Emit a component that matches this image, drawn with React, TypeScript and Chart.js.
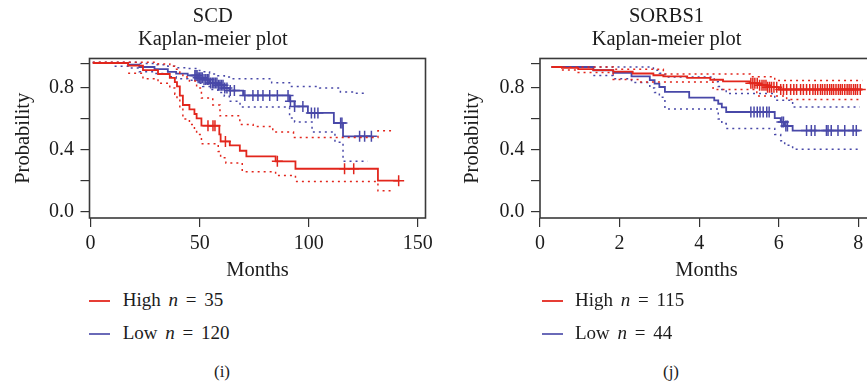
import React, { useEffect, useRef } from "react";
import { Chart, registerables } from "chart.js";

Chart.register(...registerables);

type Pt = [number, number];

const FONT = "'Liberation Serif', 'Times New Roman', serif";
const RED = "#e2261c";
const BLUE = "#4848a8";
const INK = "#1c1c1c";

// ---------- shared axis data ----------
const probTicks = [0, 0.2, 0.4, 0.6, 0.8, 0.955];
const probLabeled = [0, 0.4, 0.8];
const groupNames = ["High", "Low"];

// ---------- SCD panel ----------
const scdTitle = ["SCD", "Kaplan-meier plot"];
const scdXTicks = [0, 50, 100, 150];
const scdCounts = [35, 120];

const scdHighSurv: Pt[] = [
  [1.0, 0.961], [17.2, 0.944], [24.0, 0.915], [30.9, 0.89], [36.3, 0.865], [38.6, 0.838],
  [39.6, 0.81], [40.9, 0.75], [42.3, 0.69], [45.3, 0.662], [47.6, 0.632], [48.6, 0.604],
  [50.8, 0.557], [59.0, 0.5], [59.6, 0.455], [63.8, 0.43], [68.4, 0.395], [71.4, 0.359],
  [84.8, 0.327], [93.9, 0.279], [131.7, 0.202], [141.5, 0.202],
];
const scdHighUpper: Pt[] = [
  [1.0, 0.965], [30.9, 0.955], [36.3, 0.94], [38.6, 0.92], [40.9, 0.895], [42.3, 0.87],
  [45.3, 0.845], [48.6, 0.8], [50.8, 0.735], [56.0, 0.69], [59.3, 0.62], [68.4, 0.565],
  [74.5, 0.552], [83.5, 0.516], [93.0, 0.481], [131.7, 0.524], [139.5, 0.524],
];
const scdHighLower: Pt[] = [
  [17.2, 0.895], [24.0, 0.86], [30.9, 0.83], [36.3, 0.8], [38.6, 0.76], [39.6, 0.73],
  [40.9, 0.67], [42.3, 0.6], [45.3, 0.565], [47.6, 0.53], [48.6, 0.5], [50.8, 0.44],
  [58.5, 0.39], [59.6, 0.35], [62.0, 0.316], [69.5, 0.26], [84.8, 0.236], [93.9, 0.197],
  [131.7, 0.137], [139.3, 0.137],
];
const scdHighCensor = [53.8, 56.1, 57.0, 61.8, 85.6, 116.4, 120.6, 141.2];

const scdLowSurv: Pt[] = [
  [1.0, 0.961], [17.2, 0.95], [22.3, 0.935], [29.3, 0.922], [35.4, 0.903], [39.2, 0.892],
  [44.5, 0.881], [49.0, 0.866], [51.4, 0.854], [54.5, 0.832], [58.3, 0.817], [61.3, 0.8],
  [63.6, 0.783], [69.9, 0.752], [91.2, 0.714], [93.5, 0.681], [99.6, 0.639], [111.5, 0.574],
  [115.7, 0.488], [128.7, 0.488],
];
const scdLowUpper: Pt[] = [
  [1.0, 0.965], [22.3, 0.958], [29.3, 0.95], [35.4, 0.94], [39.2, 0.93], [44.5, 0.925],
  [49.0, 0.912], [51.4, 0.905], [54.5, 0.89], [58.3, 0.878], [61.3, 0.87], [63.6, 0.86],
  [83.0, 0.833], [91.2, 0.81], [105.0, 0.8], [114.5, 0.774], [120.0, 0.765], [127.0, 0.765],
];
const scdLowLower: Pt[] = [
  [11.0, 0.94], [17.2, 0.928], [22.3, 0.905], [29.3, 0.893], [35.4, 0.872], [39.2, 0.86],
  [44.5, 0.85], [49.0, 0.83], [51.4, 0.81], [54.5, 0.79], [58.3, 0.77], [61.3, 0.746],
  [63.6, 0.714], [68.5, 0.677], [91.2, 0.606], [93.5, 0.58], [101.5, 0.516], [112.0, 0.45],
  [115.7, 0.327], [127.0, 0.327],
];
const scdLowCensor = [
  47.8, 48.3, 48.8, 49.3, 50.0, 50.6, 51.2, 52.0, 52.8, 53.5, 54.2, 55.0, 55.8, 56.5, 57.2,
  57.9, 58.6, 59.3, 60.0, 60.7, 61.5, 62.5, 64.0, 65.9, 70.7, 74.4, 76.7, 79.0, 82.1, 85.6,
  90.5, 91.6, 93.5, 97.3, 101.2, 102.7, 104.2, 114.6, 115.2, 123.3, 125.6, 128.7,
];

// ---------- SORBS1 panel ----------
const sorbsTitle = ["SORBS1", "Kaplan-meier plot"];
const sorbsXTicks = [0, 2, 4, 6, 8];
const sorbsCounts = [115, 44];

const sorbsHighSurv: Pt[] = [
  [0.29, 0.935], [0.55, 0.93], [0.96, 0.922], [1.34, 0.915], [1.84, 0.905], [2.33, 0.893],
  [2.85, 0.882], [3.1, 0.874], [3.7, 0.865], [4.28, 0.853], [4.6, 0.843], [5.28, 0.83],
  [5.5, 0.818], [5.7, 0.805], [6.0, 0.79], [8.1, 0.79],
];
const sorbsHighUpper: Pt[] = [
  [0.29, 0.935], [1.84, 0.92], [3.1, 0.89], [5.28, 0.872], [5.9, 0.848], [8.1, 0.848],
];
const sorbsHighLower: Pt[] = [
  [0.55, 0.915], [0.96, 0.9], [1.84, 0.855], [2.5, 0.838], [4.35, 0.79], [5.45, 0.748],
  [6.2, 0.725], [8.1, 0.725],
];
const sorbsHighCensor = [
  5.3, 5.35, 5.4, 5.46, 5.52, 5.58, 5.63, 5.68, 5.72, 5.77, 5.82, 5.88, 5.95, 6.05, 6.12, 6.2,
  6.3, 6.38, 6.45, 6.55, 6.62, 6.7, 6.78, 6.86, 6.92, 6.98, 7.05, 7.1, 7.16, 7.22, 7.28, 7.33,
  7.38, 7.44, 7.5, 7.55, 7.6, 7.66, 7.72, 7.77, 7.82, 7.88, 7.93, 7.98, 8.05,
];

const sorbsLowSurv: Pt[] = [
  [0.29, 0.935], [1.34, 0.914], [1.84, 0.897], [2.3, 0.875], [2.76, 0.85], [2.88, 0.828],
  [3.0, 0.806], [3.14, 0.775], [3.75, 0.738], [4.38, 0.72], [4.48, 0.698], [4.57, 0.675],
  [4.68, 0.645], [5.9, 0.605], [6.05, 0.58], [6.15, 0.555], [6.35, 0.525], [8.04, 0.525],
];
const sorbsLowUpper: Pt[] = [
  [0.29, 0.935], [2.85, 0.914], [3.0, 0.895], [3.14, 0.871], [4.38, 0.84], [4.48, 0.81],
  [4.57, 0.79], [4.68, 0.764], [5.9, 0.72], [6.35, 0.677], [8.04, 0.677],
];
const sorbsLowLower: Pt[] = [
  [1.34, 0.88], [1.84, 0.86], [2.3, 0.835], [2.76, 0.8], [2.88, 0.77], [3.0, 0.74],
  [3.14, 0.665], [4.48, 0.6], [4.57, 0.57], [4.68, 0.538], [5.9, 0.5], [6.05, 0.46],
  [6.15, 0.43], [6.35, 0.405], [8.04, 0.405],
];
const sorbsLowCensor = [
  5.3, 5.38, 5.46, 5.53, 5.61, 5.7, 5.76, 6.08, 6.12, 6.18, 6.22, 6.7, 6.82, 6.91, 7.2, 7.24,
  7.32, 7.49, 7.66, 7.87, 7.95,
];

// ---------- helpers ----------
function levelAt(steps: Pt[], t: number): number {
  let y = steps[0][1];
  for (const [x, v] of steps) {
    if (x <= t + 1e-9) y = v;
    else break;
  }
  return y;
}

const boxPlugin = {
  id: "kmBox",
  beforeDatasetsDraw(chart: any) {
    const { ctx, chartArea: a } = chart;
    ctx.save();
    ctx.strokeStyle = "#3a3a3a";
    ctx.lineWidth = 1.6;
    ctx.strokeRect(a.left, a.top, a.right - a.left, a.bottom - a.top);
    ctx.restore();
  },
};

interface Panel {
  title: string[];
  yWidth: number;
  padRight: number;
  yTitlePad: number;
  xMin: number;
  xMax: number;
  xTicks: number[];
  high: Pt[];
  highUp: Pt[];
  highLo: Pt[];
  highCens: number[];
  low: Pt[];
  lowUp: Pt[];
  lowLo: Pt[];
  lowCens: number[];
}

const CANVAS_H = 283;
const PLOT_BOTTOM = 218;

function makeConfig(p: Panel): any {
  const line = (pts: Pt[], color: string, dotted: boolean) => ({
    data: pts.map(([x, y]) => ({ x, y })),
    borderColor: color,
    backgroundColor: color,
    borderWidth: dotted ? 1.5 : 1.8,
    borderDash: dotted ? [2, 4] : [],
    stepped: "before",
    pointRadius: 0,
    pointHoverRadius: 0,
    fill: false,
  });
  const cens = (times: number[], steps: Pt[], color: string) => ({
    data: times.map((t) => ({ x: t, y: levelAt(steps, t) })),
    showLine: false,
    pointStyle: "cross",
    pointRadius: 5.5,
    pointHoverRadius: 5.5,
    pointBorderWidth: 1.5,
    borderColor: color,
    backgroundColor: color,
  });
  const tickFont = { family: FONT, size: 20, weight: "normal" as const };
  const axisFont = { family: FONT, size: 20.5, weight: "normal" as const };
  return {
    type: "line",
    data: {
      datasets: [
        line(p.high, RED, false),
        cens(p.highCens, p.high, RED),
        line(p.highUp, RED, true),
        line(p.highLo, RED, true),
        line(p.low, BLUE, false),
        cens(p.lowCens, p.low, BLUE),
        line(p.lowUp, BLUE, true),
        line(p.lowLo, BLUE, true),
      ],
    },
    options: {
      responsive: false,
      animation: false,
      events: [],
      layout: { padding: { left: 0, right: p.padRight, top: 0, bottom: 0 } },
      plugins: {
        legend: { display: false },
        tooltip: { enabled: false },
        title: {
          display: true,
          text: p.title,
          color: INK,
          font: { family: FONT, size: 20.5, weight: "normal", lineHeight: 1.102 },
          padding: { top: 5.4, bottom: 7.9 },
        },
      },
      scales: {
        x: {
          type: "linear",
          min: p.xMin,
          max: p.xMax,
          afterBuildTicks: (s: any) => {
            s.ticks = p.xTicks.map((v) => ({ value: v }));
          },
          afterFit: (s: any) => {
            s.height = CANVAS_H - PLOT_BOTTOM;
          },
          grid: {
            display: true,
            drawOnChartArea: false,
            drawTicks: true,
            tickLength: 9,
            color: "#333",
            lineWidth: 1.2,
          },
          border: { display: false },
          ticks: {
            color: INK,
            font: tickFont,
            padding: 4.5,
            maxRotation: 0,
            autoSkip: false,
            callback: (v: any) => String(v),
          },
          title: {
            display: true,
            text: "Months",
            color: INK,
            font: axisFont,
            padding: { top: 0, bottom: 0 },
          },
        },
        y: {
          type: "linear",
          min: -0.0387,
          max: 0.99,
          afterBuildTicks: (s: any) => {
            s.ticks = probTicks.map((v) => ({ value: v }));
          },
          afterFit: (s: any) => {
            s.width = p.yWidth;
          },
          grid: {
            display: true,
            drawOnChartArea: false,
            drawTicks: true,
            tickLength: 9,
            color: "#333",
            lineWidth: 1.2,
          },
          border: { display: false },
          ticks: {
            color: INK,
            font: tickFont,
            padding: 6.5,
            autoSkip: false,
            callback: (v: any) =>
              probLabeled.some((q) => Math.abs(q - v) < 1e-6) ? Number(v).toFixed(1) : "",
          },
          title: {
            display: true,
            text: "Probability",
            color: INK,
            font: axisFont,
            padding: { top: p.yTitlePad, bottom: 0 },
          },
        },
      },
    },
    plugins: [boxPlugin],
  };
}

const scdPanel: Panel = {
  title: scdTitle,
  yWidth: 89.5,
  padRight: 514 - 425.5,
  yTitlePad: 11.7,
  xMin: -0.5,
  xMax: 153.5,
  xTicks: scdXTicks,
  high: scdHighSurv,
  highUp: scdHighUpper,
  highLo: scdHighLower,
  highCens: scdHighCensor,
  low: scdLowSurv,
  lowUp: scdLowUpper,
  lowLo: scdLowLower,
  lowCens: scdLowCensor,
};

const sorbsPanel: Panel = {
  title: sorbsTitle,
  yWidth: 80,
  padRight: 80,
  yTitlePad: 0.4,
  xMin: 0,
  xMax: 8.37,
  xTicks: sorbsXTicks,
  high: sorbsHighSurv,
  highUp: sorbsHighUpper,
  highLo: sorbsHighLower,
  highCens: sorbsHighCensor,
  low: sorbsLowSurv,
  lowUp: sorbsLowUpper,
  lowLo: sorbsLowLower,
  lowCens: sorbsLowCensor,
};

function LegendBlock({ lineLeft, textLeft, counts }: { lineLeft: number; textLeft: number; counts: number[] }) {
  const rows = [
    { color: "#e63d35", lineY: 300.7, base: 306, name: groupNames[0], n: counts[0] },
    { color: "#6a6ab8", lineY: 334, base: 339.3, name: groupNames[1], n: counts[1] },
  ];
  return (
    <>
      {rows.map((r) => (
        <React.Fragment key={r.name}>
          <div
            style={{
              position: "absolute",
              left: lineLeft,
              top: r.lineY - 1,
              width: 21,
              height: 2,
              background: r.color,
            }}
          />
          <div
            style={{
              position: "absolute",
              left: textLeft,
              top: r.base - 15.9,
              fontFamily: FONT,
              fontSize: 19,
              lineHeight: "19px",
              whiteSpace: "nowrap",
              wordSpacing: 3,
              color: INK,
            }}
          >
            {r.name} <i>n</i> = {r.n}
          </div>
        </React.Fragment>
      ))}
    </>
  );
}

function Caption({ cx, text }: { cx: number; text: string }) {
  return (
    <div
      style={{
        position: "absolute",
        left: cx - 30,
        width: 60,
        top: 362.8,
        textAlign: "center",
        fontFamily: FONT,
        fontSize: 17,
        lineHeight: "17px",
        color: INK,
      }}
    >
      {text}
    </div>
  );
}

export default function App() {
  const leftRef = useRef<HTMLCanvasElement | null>(null);
  const rightRef = useRef<HTMLCanvasElement | null>(null);

  useEffect(() => {
    const charts: Chart[] = [];
    if (leftRef.current) charts.push(new Chart(leftRef.current, makeConfig(scdPanel)));
    if (rightRef.current) charts.push(new Chart(rightRef.current, makeConfig(sorbsPanel)));
    return () => charts.forEach((c) => c.destroy());
  }, []);

  return (
    <div
      style={{
        position: "fixed",
        left: 0,
        top: 0,
        width: 867,
        height: 387,
        overflow: "hidden",
        background: "#ffffff",
      }}
    >
      <canvas
        ref={leftRef}
        width={514}
        height={CANVAS_H}
        style={{ position: "absolute", left: 0, top: 0, width: 514, height: CANVAS_H }}
      />
      <canvas
        ref={rightRef}
        width={493}
        height={CANVAS_H}
        style={{ position: "absolute", left: 460, top: 0, width: 493, height: CANVAS_H }}
      />
      <LegendBlock lineLeft={89.3} textLeft={122.7} counts={scdCounts} />
      <LegendBlock lineLeft={541.7} textLeft={575} counts={sorbsCounts} />
      <Caption cx={222} text="(i)" />
      <Caption cx={671} text="(j)" />
    </div>
  );
}
